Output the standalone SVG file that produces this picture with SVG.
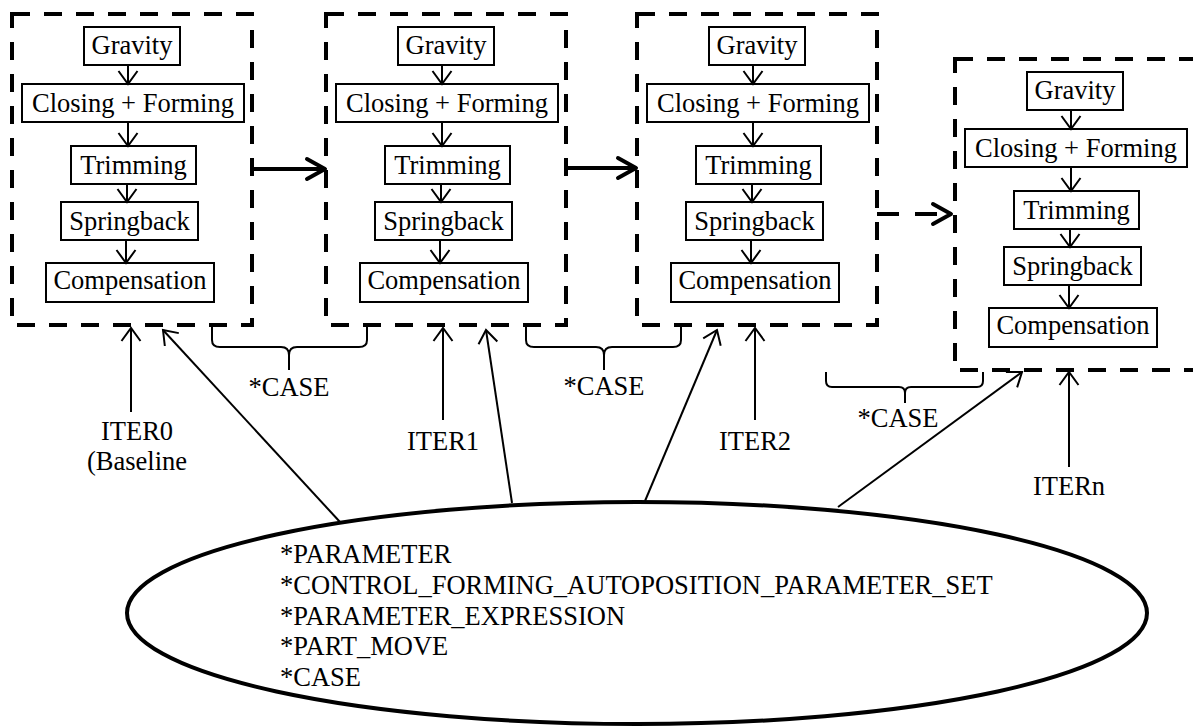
<svg xmlns="http://www.w3.org/2000/svg" width="1193" height="727" viewBox="0 0 1193 727">
<style>
text{font-family:"Liberation Serif","Times New Roman",serif;font-size:26.5px;fill:#000}
.c{text-anchor:middle}
.dbox{fill:none;stroke:#000;stroke-width:4;stroke-dasharray:18 14}
.nb{fill:#fff;stroke:#000;stroke-width:2}
.thin{fill:none;stroke:#000;stroke-width:2;marker-end:url(#ah)}
.thick{fill:none;stroke:#000;stroke-width:4;marker-end:url(#ahb)}
.brace{fill:none;stroke:#000;stroke-width:2}
</style>
<defs>
<marker id="ah" markerUnits="userSpaceOnUse" viewBox="-16 -12 18 24" refX="0" refY="0" markerWidth="18" markerHeight="24" orient="auto" overflow="visible">
<path d="M-13,-9.5 L0,0 L-13,9.5" fill="none" stroke="#000" stroke-width="2"/>
</marker>
<marker id="ahb" markerUnits="userSpaceOnUse" viewBox="-22 -14 24 28" refX="0" refY="0" markerWidth="24" markerHeight="28" orient="auto" overflow="visible">
<path d="M-18,-10 L0,0 L-18,10" fill="none" stroke="#000" stroke-width="4" stroke-linecap="round" stroke-linejoin="round"/>
</marker>
<g id="stage">
<rect class="dbox" x="12" y="14" width="240" height="311"/>
<g id="gravity"><rect class="nb" x="84" y="27" width="96" height="38"/><text class="c" x="132" y="54">Gravity</text></g>
<g id="closing"><rect class="nb" x="22" y="84" width="222" height="38"/><text class="c" x="133" y="112">Closing + Forming</text></g>
<g id="trimming"><rect class="nb" x="71" y="146" width="125" height="38"/><text class="c" x="133.5" y="174">Trimming</text></g>
<g id="springback"><rect class="nb" x="61" y="202" width="137" height="38"/><text class="c" x="129.5" y="230">Springback</text></g>
<g id="compensation"><rect class="nb" x="46" y="263" width="168" height="39"/><text class="c" x="130" y="289">Compensation</text></g>
<line class="thin" x1="128" y1="65" x2="128" y2="84"/>
<line class="thin" x1="128" y1="122" x2="128" y2="146"/>
<line class="thin" x1="127" y1="184" x2="127" y2="202"/>
<line class="thin" x1="126" y1="240" x2="126" y2="263"/>
</g>
</defs>
<g id="iter0"><use href="#stage"/></g>
<g id="iter1"><use href="#stage" transform="translate(314,0)"/></g>
<g id="iter2"><use href="#stage" transform="translate(625,0)"/></g>
<g id="itern"><use href="#stage" transform="translate(943,45)"/></g>
<g id="params">
<ellipse cx="637" cy="613" rx="510" ry="111" fill="#fff" stroke="#000" stroke-width="4"/>
<text x="280" y="563">*PARAMETER</text>
<text x="280" y="594">*CONTROL_FORMING_AUTOPOSITION_PARAMETER_SET</text>
<text x="280" y="625">*PARAMETER_EXPRESSION</text>
<text x="280" y="655">*PART_MOVE</text>
<text x="280" y="686">*CASE</text>
</g>
<g id="labels">
<text class="c" x="137" y="440">ITER0</text>
<text class="c" x="137" y="470">(Baseline</text>
<text class="c" x="443" y="450">ITER1</text>
<text class="c" x="755" y="450">ITER2</text>
<text class="c" x="1069" y="495">ITERn</text>
<text class="c" x="289" y="396">*CASE</text>
<text class="c" x="604" y="395">*CASE</text>
<text class="c" x="898" y="427">*CASE</text>
</g>
<g id="connectors">
<line class="thick" x1="252" y1="169" x2="325" y2="169"/>
<line class="thick" x1="566" y1="168" x2="636" y2="168"/>
<line class="thick" x1="877" y1="214" x2="951" y2="214" stroke-dasharray="22 16"/>
<line class="thin" x1="131" y1="412" x2="131" y2="328"/>
<line class="thin" x1="443" y1="420" x2="443" y2="328"/>
<line class="thin" x1="755" y1="420" x2="755" y2="328"/>
<line class="thin" x1="1069" y1="467" x2="1069" y2="372"/>
<line class="thin" x1="340" y1="522" x2="163" y2="330"/>
<line class="thin" x1="512" y1="503" x2="486" y2="330"/>
<line class="thin" x1="645" y1="501" x2="717" y2="330"/>
<line class="thin" x1="838" y1="507" x2="1022" y2="372"/>
<path class="brace" d="M212,326 V340 Q212,347 220,347 H281 Q289,347 289,355 V370 M289,355 Q289,347 297,347 H359 Q367,347 367,340 V326"/>
<path class="brace" d="M526,326 V340 Q526,347 534,347 H596 Q604,347 604,355 V370 M604,355 Q604,347 612,347 H673 Q681,347 681,340 V326"/>
<path class="brace" d="M826,372 V381 Q826,387 832,387 H899 Q905,387 905,393 V403 M905,393 Q905,387 911,387 H977 Q983,387 983,381 V372"/>
</g>
</svg>
